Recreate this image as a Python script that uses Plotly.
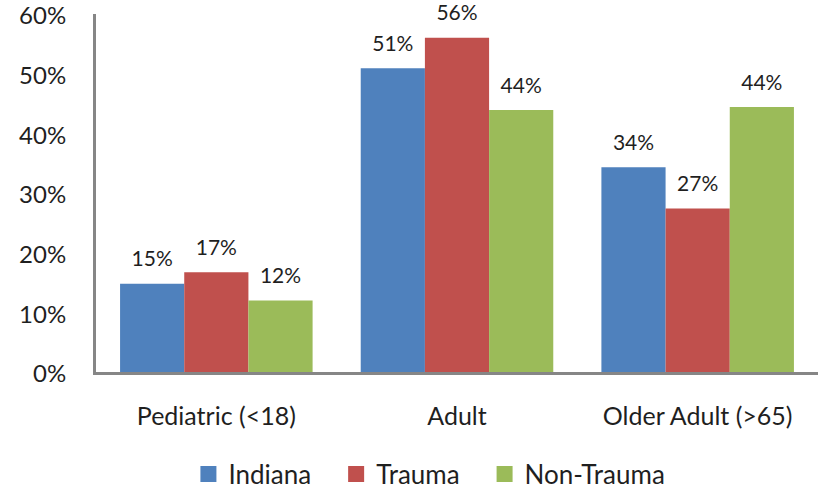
import plotly.graph_objects as go

categories = ["Pediatric (<18)", "Adult", "Older Adult (>65)"]
series_names = ["Indiana", "Trauma", "Non-Trauma"]
indiana = [14.8, 50.9, 34.3]
trauma = [16.7, 56.0, 27.4]
non_trauma = [12.0, 43.9, 44.4]
labels_indiana = ["15%", "51%", "34%"]
labels_trauma = ["17%", "56%", "27%"]
labels_non_trauma = ["12%", "44%", "44%"]
y_ticks = [0, 10, 20, 30, 40, 50, 60]
y_tick_labels = ["0%", "10%", "20%", "30%", "40%", "50%", "60%"]

colors = ["#4F81BD", "#C0504D", "#9BBB59"]
FONT = "Lato, Calibri, Carlito, sans-serif"
TXT = "#1f1f1f"
PAD = "\u00a0\u00a0\u00a0"

fig = go.Figure()
series = [indiana, trauma, non_trauma]
labels = [labels_indiana, labels_trauma, labels_non_trauma]
for name, vals, col in zip(series_names, series, colors):
    fig.add_trace(go.Bar(name=name, x=categories, y=vals, marker_color=col,
                         marker_line_width=0, offsetgroup=name, showlegend=False))
for name, vals, lab in zip(series_names, series, labels):
    fig.add_trace(go.Scatter(x=categories, y=vals, mode="markers+text", text=lab,
                             textposition="top center", offsetgroup=name,
                             marker=dict(size=18, opacity=0),
                             textfont=dict(family=FONT, size=21, color=TXT),
                             showlegend=False, hoverinfo="skip", cliponaxis=False))
# legend entries with larger square swatches
for i, (name, col) in enumerate(zip(series_names, colors)):
    shown = name + (PAD if i < len(series_names) - 1 else "")
    fig.add_trace(go.Scatter(x=[None], y=[None], mode="markers", name=shown,
                             marker=dict(symbol="square", size=18, color=col)))

fig.update_layout(
    width=822, height=491,
    margin=dict(l=96, r=4, t=14, b=119, autoexpand=False),
    paper_bgcolor="white", plot_bgcolor="white",
    barmode="group", bargap=0.2, bargroupgap=0,
    scattermode="group", scattergap=0.2,
    font=dict(family=FONT, size=24, color=TXT),
    showlegend=True,
    legend=dict(orientation="h", x=0.128, xanchor="left", y=-0.285, yanchor="middle",
                font=dict(size=26), itemsizing="trace", traceorder="normal",
                itemwidth=30, tracegroupgap=0),
    xaxis=dict(showline=True, linecolor="#868686", linewidth=3, ticks="",
               showgrid=False, zeroline=False, tickfont=dict(size=25),
               ticklabelstandoff=20, automargin=False),
    yaxis=dict(range=[0, 60], tickvals=y_ticks, ticktext=y_tick_labels,
               showline=True, linecolor="#868686", linewidth=3, ticks="",
               showgrid=False, zeroline=False, tickfont=dict(size=24),
               ticklabelstandoff=22, automargin=False, ticklabeloverflow="allow",
               ticklabelshift=2),
)

fig.write_html("out.html", config={"displayModeBar": False},
               post_script="document.body.style.margin='0';document.body.style.overflow='hidden';")
